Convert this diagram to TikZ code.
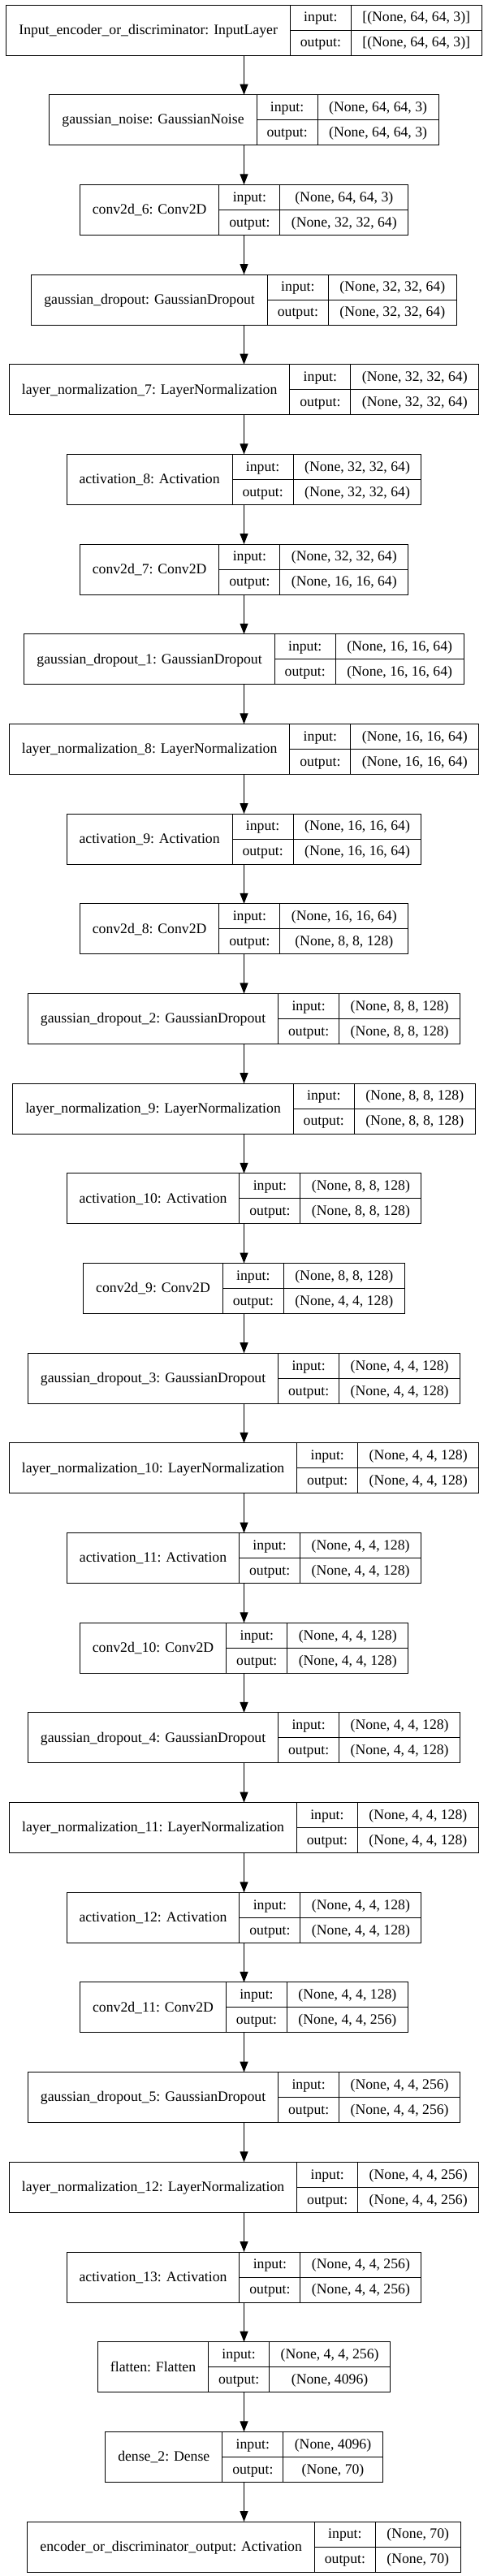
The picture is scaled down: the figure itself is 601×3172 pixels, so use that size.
\documentclass[tikz,border=0pt]{standalone}
\usepackage{fontspec}
\setmainfont{Liberation Serif}
\usetikzlibrary{arrows.meta}
\newdimen\lwn \newdimen\lwv \newdimen\lwt
\newcommand\lfnt{\fontsize{17.7}{21}\selectfont}
\tikzset{
  layer/.style={draw=black, line width=1pt, minimum height=62pt, inner sep=0pt, outer sep=0pt},
  divider/.style={draw=black, line width=1pt},
  lbl/.style={anchor=base, inner sep=0pt, font=\lfnt},
  conn/.style={draw=black, line width=1pt, -{Triangle[length=13pt,width=10pt]}},
}
% measure texts outside the picture: id, name, in, out
\newcommand\deflayer[4]{%
  \setbox0=\hbox{\lfnt #2}\lwn=\wd0
  \setbox0=\hbox{\lfnt #3}\lwv=\wd0
  \setbox0=\hbox{\lfnt #4}\lwt=\wd0
  \ifdim\lwt>\lwv \lwv=\lwt\fi
  \expandafter\xdef\csname LWn#1\endcsname{\the\lwn}%
  \expandafter\xdef\csname LWv#1\endcsname{\the\lwv}%
  \expandafter\gdef\csname LTn#1\endcsname{#2}%
  \expandafter\gdef\csname LTi#1\endcsname{#3}%
  \expandafter\gdef\csname LTo#1\endcsname{#4}%
}
\newcommand\layerbox[1]{%
  \pgfmathsetmacro\lWn{\csname LWn#1\endcsname+31}%
  \pgfmathsetmacro\lWv{\csname LWv#1\endcsname+28}%
  \pgfmathsetmacro\lW{\lWn+75+\lWv}%
  \pgfmathsetmacro\lY{37+(#1-1)*110.68}%
  \pgfmathsetmacro\lL{300.5-\lW/2}%
  \pgfmathsetmacro\lXa{\lL+\lWn}%
  \pgfmathsetmacro\lXb{\lXa+75}%
  \pgfmathsetmacro\lR{\lL+\lW}%
  \node[layer, minimum width=\lW pt] (b#1) at (300.5,\lY) {};
  \draw[divider] (\lXa,\lY-31) -- (\lXa,\lY+31) (\lXa,\lY) -- (\lR,\lY) (\lXb,\lY-31) -- (\lXb,\lY+31);
  \node[lbl] (b#1-n) at ({(\lL+\lXa)/2},\lY+5.3) {\csname LTn#1\endcsname};
  \node[lbl] (b#1-li) at ({(\lXa+\lXb)/2},\lY-15.5+5.3) {input:};
  \node[lbl] (b#1-lo) at ({(\lXa+\lXb)/2},\lY+15.5+5.3) {output:};
  \node[lbl] (b#1-vi) at ({(\lXb+\lR)/2},\lY-15.5+5.3) {\csname LTi#1\endcsname};
  \node[lbl] (b#1-vo) at ({(\lXb+\lR)/2},\lY+15.5+5.3) {\csname LTo#1\endcsname};
}
\begin{document}
\deflayer{1}{Input\_encoder\_or\_discriminator: InputLayer}{[(None, 64, 64, 3)]}{[(None, 64, 64, 3)]}%
\deflayer{2}{gaussian\_noise: GaussianNoise}{(None, 64, 64, 3)}{(None, 64, 64, 3)}%
\deflayer{3}{conv2d\_6: Conv2D}{(None, 64, 64, 3)}{(None, 32, 32, 64)}%
\deflayer{4}{gaussian\_dropout: GaussianDropout}{(None, 32, 32, 64)}{(None, 32, 32, 64)}%
\deflayer{5}{layer\_normalization\_7: LayerNormalization}{(None, 32, 32, 64)}{(None, 32, 32, 64)}%
\deflayer{6}{activation\_8: Activation}{(None, 32, 32, 64)}{(None, 32, 32, 64)}%
\deflayer{7}{conv2d\_7: Conv2D}{(None, 32, 32, 64)}{(None, 16, 16, 64)}%
\deflayer{8}{gaussian\_dropout\_1: GaussianDropout}{(None, 16, 16, 64)}{(None, 16, 16, 64)}%
\deflayer{9}{layer\_normalization\_8: LayerNormalization}{(None, 16, 16, 64)}{(None, 16, 16, 64)}%
\deflayer{10}{activation\_9: Activation}{(None, 16, 16, 64)}{(None, 16, 16, 64)}%
\deflayer{11}{conv2d\_8: Conv2D}{(None, 16, 16, 64)}{(None, 8, 8, 128)}%
\deflayer{12}{gaussian\_dropout\_2: GaussianDropout}{(None, 8, 8, 128)}{(None, 8, 8, 128)}%
\deflayer{13}{layer\_normalization\_9: LayerNormalization}{(None, 8, 8, 128)}{(None, 8, 8, 128)}%
\deflayer{14}{activation\_10: Activation}{(None, 8, 8, 128)}{(None, 8, 8, 128)}%
\deflayer{15}{conv2d\_9: Conv2D}{(None, 8, 8, 128)}{(None, 4, 4, 128)}%
\deflayer{16}{gaussian\_dropout\_3: GaussianDropout}{(None, 4, 4, 128)}{(None, 4, 4, 128)}%
\deflayer{17}{layer\_normalization\_10: LayerNormalization}{(None, 4, 4, 128)}{(None, 4, 4, 128)}%
\deflayer{18}{activation\_11: Activation}{(None, 4, 4, 128)}{(None, 4, 4, 128)}%
\deflayer{19}{conv2d\_10: Conv2D}{(None, 4, 4, 128)}{(None, 4, 4, 128)}%
\deflayer{20}{gaussian\_dropout\_4: GaussianDropout}{(None, 4, 4, 128)}{(None, 4, 4, 128)}%
\deflayer{21}{layer\_normalization\_11: LayerNormalization}{(None, 4, 4, 128)}{(None, 4, 4, 128)}%
\deflayer{22}{activation\_12: Activation}{(None, 4, 4, 128)}{(None, 4, 4, 128)}%
\deflayer{23}{conv2d\_11: Conv2D}{(None, 4, 4, 128)}{(None, 4, 4, 256)}%
\deflayer{24}{gaussian\_dropout\_5: GaussianDropout}{(None, 4, 4, 256)}{(None, 4, 4, 256)}%
\deflayer{25}{layer\_normalization\_12: LayerNormalization}{(None, 4, 4, 256)}{(None, 4, 4, 256)}%
\deflayer{26}{activation\_13: Activation}{(None, 4, 4, 256)}{(None, 4, 4, 256)}%
\deflayer{27}{flatten: Flatten}{(None, 4, 4, 256)}{(None, 4096)}%
\deflayer{28}{dense\_2: Dense}{(None, 4096)}{(None, 70)}%
\deflayer{29}{encoder\_or\_discriminator\_output: Activation}{(None, 70)}{(None, 70)}%
\begin{tikzpicture}[x=1pt,y=-1pt]
\useasboundingbox[fill=white] (0,0) rectangle (601,3172);
\foreach \i in {1,...,29} {\layerbox{\i}}
\foreach \i [evaluate=\i as \j using int(\i+1)] in {1,...,28}
  \draw[conn] (b\i.south) -- (b\j.north);
\end{tikzpicture}
\end{document}
